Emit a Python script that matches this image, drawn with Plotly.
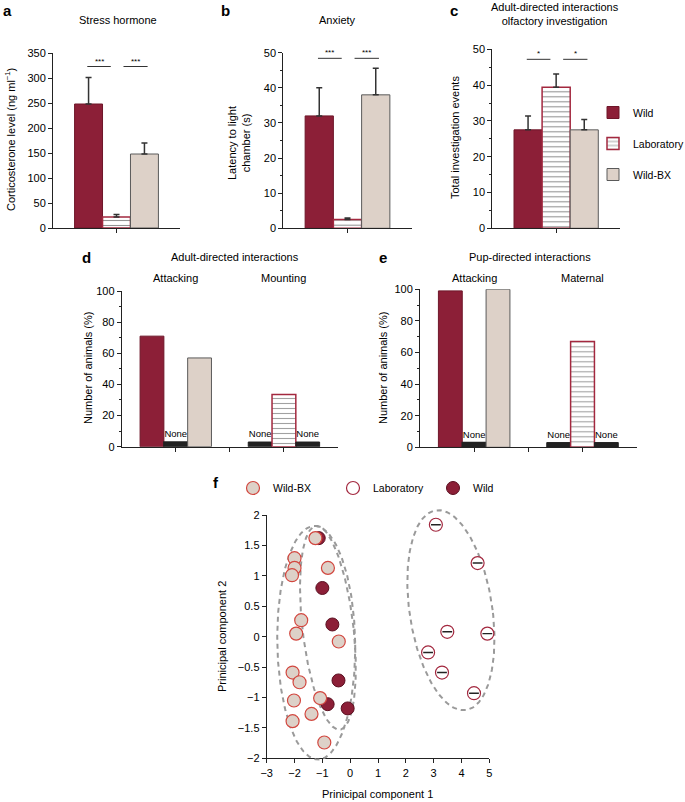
import numpy as np
import plotly.graph_objects as go

W, H = 685, 802
def px(x): return x / W
def py(y): return 1 - y / H

FONT = "Liberation Sans, Arial, sans-serif"

# ---------------- data ----------------
GROUPS = ["Wild", "Laboratory", "Wild-BX"]

A_MEAN = [248, 22, 148]
A_ERR = [53, 5, 22]
A_SIG = ["***", "***"]

B_MEAN = [32, 2.5, 38]
B_ERR = [8, 0.4, 7.6]
B_SIG = ["***", "***"]

C_MEAN = [27.5, 39.4, 27.5]
C_ERR = [3.9, 3.7, 2.9]
C_SIG = ["*", "*"]

D_BEHAV = ["Attacking", "Mounting"]
D_WILD = [71, 0]
D_LAB = [0, 33.5]
D_WBX = [57, 0]

E_BEHAV = ["Attacking", "Maternal"]
E_WILD = [99, 0]
E_LAB = [0, 67]
E_WBX = [100, 0]

PCA_WBX_X = [-1.25, -2.0, -2.0, -2.09, -0.80, -1.76, -1.94, -0.41, -2.07, -1.82, -2.02, -1.08, -1.39, -2.07, -0.93]
PCA_WBX_Y = [1.62, 1.29, 1.13, 1.01, 1.13, 0.27, 0.05, -0.08, -0.59, -0.75, -1.05, -1.01, -1.27, -1.39, -1.74]
PCA_WILD_X = [-1.13, -1.0, -0.64, -0.42, -0.81, -0.09]
PCA_WILD_Y = [1.62, 0.80, 0.20, -0.72, -1.11, -1.18]
PCA_LAB_X = [3.08, 4.58, 3.49, 4.93, 2.80, 3.30, 4.45]
PCA_LAB_Y = [1.84, 1.21, 0.08, 0.05, -0.26, -0.59, -0.93]

# ellipses: center, conjugate semi-diameters
ELLIPSES = [
    dict(c=(-1.22, -0.10), u=(1.40, 0.0), v=(-0.06, 1.92)),
    dict(c=(-0.80, 0.145), u=(0.92, 0.0), v=(-0.40, 1.675)),
    dict(c=(3.62, 0.435), u=(1.50, 0.0), v=(-0.45, 1.645)),
]

# ---------------- styles ----------------
WILD_C = "#8C1F37"
WILD_LINE = "#6E1629"
WBX_C = "#DDD1C8"
WBX_LINE = "#5A5A5A"
LAB_LINE = "#A3283F"
NONE_C = "#222222"
NONE_STUB = 3
PAT = dict(shape="-", fgcolor="#2a2a2a", bgcolor="white", size=5, solidity=0.22)
NOPAT = dict(shape="", fgcolor="#2a2a2a", bgcolor="white", size=5, solidity=0.22)

# PCA panel geometry (pixels) and axis ranges
F_X0, F_X1, F_XR = 266.7, 489.3, (-3, 5)
F_Y0, F_Y1, F_YR = 515.0, 758.3, (-2, 2)
F_SX = (F_X1 - F_X0) / (F_XR[1] - F_XR[0])
F_SY = (F_Y1 - F_Y0) / (F_YR[1] - F_YR[0])
ELL_XR = (-3.0, 5.6)
ELL_YR = (-2.2, 2.3)

fig = go.Figure()

styles = {
    "Wild": dict(color=WILD_C, line=dict(color=WILD_LINE, width=1)),
    "Laboratory": dict(color="white", pattern=PAT, line=dict(color=LAB_LINE, width=1.5)),
    "Wild-BX": dict(color=WBX_C, line=dict(color=WBX_LINE, width=1)),
}

def add_mean_panel(means, errs, xa, ya, legend):
    for i, g in enumerate(GROUPS):
        fig.add_trace(go.Bar(
            x=[0], y=[means[i]], name=g, marker=styles[g],
            error_y=dict(type="data", array=[errs[i]], arrayminus=[0], symmetric=False,
                         color="#333", thickness=1.5, width=3),
            xaxis=xa, yaxis=ya, showlegend=legend, legendgroup="g%d" % i, legend="legend",
        ))

add_mean_panel(A_MEAN, A_ERR, "x", "y", False)
add_mean_panel(B_MEAN, B_ERR, "x2", "y2", False)
add_mean_panel(C_MEAN, C_ERR, "x3", "y3", True)

def add_pct_panel(vals_list, xa, ya):
    for g, vals in zip(GROUPS, vals_list):
        st = styles[g]
        yv = [v if v > 0 else NONE_STUB for v in vals]
        colors = [st["color"] if v > 0 else NONE_C for v in vals]
        lcolors = [st["line"]["color"] if v > 0 else NONE_C for v in vals]
        pat = dict(PAT) if g == "Laboratory" else dict(NOPAT)
        pat["shape"] = [pat["shape"] if v > 0 else "" for v in vals]
        fig.add_trace(go.Bar(
            x=list(range(len(vals))), y=yv, name=g,
            marker=dict(color=colors, pattern=pat,
                        line=dict(color=lcolors, width=st["line"]["width"])),
            text=["None" if v == 0 else "" for v in vals], textposition="outside",
            constraintext="none", cliponaxis=False,
            textfont=dict(size=9.5, color="black", family=FONT),
            xaxis=xa, yaxis=ya, showlegend=False,
        ))

add_pct_panel([D_WILD, D_LAB, D_WBX], "x4", "y4")
add_pct_panel([E_WILD, E_LAB, E_WBX], "x5", "y5")

# PCA: drawn on an invisible, slightly larger axis pair (x7/y7) with the same scale
# as the visible axes x6/y6, so the dashed ellipses are not clipped at x = 5.
t = np.linspace(0, 2 * np.pi, 240)
for e in ELLIPSES:
    ex = e["c"][0] + e["u"][0] * np.cos(t) + e["v"][0] * np.sin(t)
    ey = e["c"][1] + e["u"][1] * np.cos(t) + e["v"][1] * np.sin(t)
    fig.add_trace(go.Scatter(x=ex, y=ey, mode="lines",
                             line=dict(color="#9a9a9a", width=2, dash="5px,4px"),
                             xaxis="x7", yaxis="y7", showlegend=False, hoverinfo="skip"))

MS = 13
fig.add_trace(go.Scatter(x=PCA_WILD_X, y=PCA_WILD_Y, mode="markers", name="Wild",
                         marker=dict(size=MS, color=WILD_C, line=dict(color="#5a0f20", width=1)),
                         xaxis="x7", yaxis="y7", legend="legend2", legendrank=3))
fig.add_trace(go.Scatter(x=PCA_WBX_X, y=PCA_WBX_Y, mode="markers", name="Wild-BX",
                         marker=dict(size=MS, color=WBX_C, line=dict(color="#D2473F", width=1.2)),
                         xaxis="x7", yaxis="y7", legend="legend2", legendrank=1))
fig.add_trace(go.Scatter(x=PCA_LAB_X, y=PCA_LAB_Y, mode="markers", name="Laboratory",
                         marker=dict(size=MS, color="white", line=dict(color=LAB_LINE, width=1.2)),
                         xaxis="x7", yaxis="y7", legend="legend2", legendrank=2))
fig.add_trace(go.Scatter(x=PCA_LAB_X, y=PCA_LAB_Y, mode="markers",
                         marker=dict(size=7, symbol="line-ew", line=dict(color="#222", width=1.4)),
                         xaxis="x7", yaxis="y7", showlegend=False, hoverinfo="skip"))
# anchor trace for the visible PCA axes
fig.add_trace(go.Scatter(x=[None], y=[None], mode="markers", xaxis="x6", yaxis="y6",
                         showlegend=False, hoverinfo="skip"))

# ---------------- axes ----------------
def xax(dom, rng, tickvals, **kw):
    d = dict(domain=[px(dom[0]), px(dom[1])], range=rng, showline=True, linecolor="#222",
             linewidth=1, ticks="outside", ticklen=4, tickcolor="#222", tickvals=tickvals,
             showticklabels=False, showgrid=False, zeroline=False, fixedrange=True,
             automargin=False)
    d.update(kw)
    return d

def yax(dom, rng, dtick, minor=None, **kw):
    d = dict(domain=[py(dom[1]), py(dom[0])], range=rng, dtick=dtick, showline=True,
             linecolor="#222", linewidth=1, ticks="outside", ticklen=4, tickcolor="#222",
             showgrid=False, zeroline=False, tickfont=dict(size=11, family=FONT, color="black"),
             fixedrange=True, automargin=False)
    if minor:
        d["minor"] = dict(ticks="outside", ticklen=2, dtick=minor, tickcolor="#222", showgrid=False)
    d.update(kw)
    return d

ell_x_dom = (F_X0 + (ELL_XR[0] - F_XR[0]) * F_SX, F_X1 + (ELL_XR[1] - F_XR[1]) * F_SX)
ell_y_dom = (F_Y0 - (ELL_YR[1] - F_YR[1]) * F_SY, F_Y1 + (F_YR[0] - ELL_YR[0]) * F_SY)

layout = dict(
    width=W, height=H, margin=dict(l=0, r=0, t=0, b=0, autoexpand=False),
    paper_bgcolor="white", plot_bgcolor="rgba(0,0,0,0)",
    barmode="group", bargap=0.34, bargroupgap=0,
    font=dict(family=FONT, size=11, color="black"),
    xaxis=xax((53, 180), [-0.5, 0.5], [0], anchor="y"),
    yaxis=yax((53, 228), [0, 350], 50, anchor="x"),
    xaxis2=xax((283.3, 411.7), [-0.5, 0.5], [0], anchor="y2"),
    yaxis2=yax((52.7, 228.3), [0, 50], 10, 5, anchor="x2"),
    xaxis3=xax((492.3, 620), [-0.5, 0.5], [0], anchor="y3"),
    yaxis3=yax((49.3, 228.3), [0, 50], 10, 5, anchor="x3"),
    xaxis4=xax((121.7, 338), [-0.5, 1.5], [0, 0.5, 1], anchor="y4"),
    yaxis4=yax((291, 446.7), [0, 100], 20, 10, anchor="x4"),
    xaxis5=xax((420, 636.7), [-0.5, 1.5], [0, 0.5, 1], anchor="y5"),
    yaxis5=yax((289.3, 447.3), [0, 100], 20, 10, anchor="x5"),
    xaxis6=dict(domain=[px(F_X0), px(F_X1)], range=list(F_XR), dtick=1, showline=True,
                linecolor="#222", ticks="outside", ticklen=4, tickcolor="#222", showgrid=False,
                zeroline=False, tickfont=dict(size=11, family=FONT), anchor="y6",
                fixedrange=True, automargin=False),
    yaxis6=yax((F_Y0, F_Y1), list(F_YR), 0.5, anchor="x6"),
    xaxis7=dict(domain=[px(ell_x_dom[0]), px(ell_x_dom[1])], range=list(ELL_XR), visible=False,
                anchor="y7", fixedrange=True, automargin=False),
    yaxis7=dict(domain=[py(ell_y_dom[1]), py(ell_y_dom[0])], range=list(ELL_YR), visible=False,
                anchor="x7", fixedrange=True, automargin=False),
    legend=dict(xref="container", yref="container", x=px(593), y=py(98),
                xanchor="left", yanchor="top", tracegroupgap=12,
                font=dict(size=10.5, family=FONT), bgcolor="rgba(0,0,0,0)", itemwidth=30),
    legend2=dict(xref="container", yref="container", orientation="h", x=px(233), y=py(488),
                 xanchor="left", yanchor="middle", entrywidth=55, entrywidthmode="pixels",
                 font=dict(size=10.5, family=FONT), bgcolor="rgba(0,0,0,0)"),
)
fig.update_layout(**layout)

ann = []
def text(x, y, s, size=11, bold=False, angle=0, **kw):
    d = dict(x=px(x), y=py(y), xref="paper", yref="paper", text=("<b>%s</b>" % s) if bold else s,
             showarrow=False, font=dict(size=size, family=FONT, color="black"),
             xanchor="center", yanchor="middle", textangle=angle)
    d.update(kw)
    ann.append(d)

for l, (x, y) in zip("abcdef", [(8, 11), (226, 11), (454, 11), (86, 257), (383, 257), (216, 483)]):
    text(x, y, l, size=15, bold=True)

text(118, 20, "Stress hormone")
text(337, 20, "Anxiety")
text(555, 14, "Adult-directed interactions<br>olfactory investigation")
text(235, 257, "Adult-directed interactions")
text(530, 257, "Pup-directed interactions")

text(10, 140, "Corticosterone level (ng ml<sup>−1</sup>)", angle=-90)
text(239, 143, "Latency to light<br>chamber (s)", angle=-90)
text(455, 138, "Total investigation events", angle=-90)
text(88, 368, "Number of animals (%)", angle=-90)
text(383, 368, "Number of animals (%)", angle=-90)
text(222, 637, "Prinicipal component 2", angle=-90)
text(377, 794, "Prinicipal component 1")

for i, b in enumerate(D_BEHAV):
    ann.append(dict(x=i, y=py(278), xref="x4", yref="paper", text=b, showarrow=False,
                    font=dict(size=11, family=FONT), xanchor="center", yanchor="middle"))
for i, b in enumerate(E_BEHAV):
    ann.append(dict(x=i, y=py(278), xref="x5", yref="paper", text=b, showarrow=False,
                    font=dict(size=11, family=FONT), xanchor="center", yanchor="middle"))

# significance brackets
shapes = []
SIG_SPANS = [(-0.23, -0.045), (0.055, 0.245)]
for (xa, ya, sig, level) in [("x", "y", A_SIG, 323), ("x2", "y2", B_SIG, 48.4), ("x3", "y3", C_SIG, 47.2)]:
    for s, (x0, x1) in zip(sig, SIG_SPANS):
        shapes.append(dict(type="line", xref=xa, yref=ya, x0=x0, x1=x1, y0=level, y1=level,
                           line=dict(color="#333", width=1)))
        ann.append(dict(x=(x0 + x1) / 2, y=level, xref=xa, yref=ya, text=s, showarrow=False,
                        font=dict(size=8, family=FONT), xanchor="center", yanchor="bottom", yshift=-1))

fig.update_layout(annotations=ann, shapes=shapes)
fig.write_html("out.html", config={"displayModeBar": False},
               post_script="document.body.style.margin='0';document.body.style.overflow='hidden';")
